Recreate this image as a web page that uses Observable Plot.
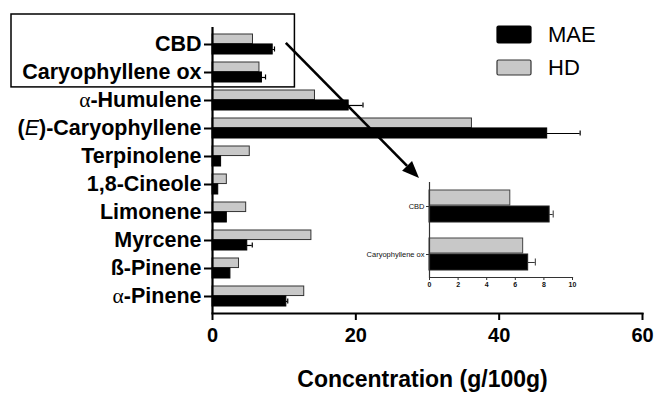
<!DOCTYPE html>
<html>
<head>
<meta charset="utf-8">
<script src="https://cdn.jsdelivr.net/npm/d3@7"></script>
<script src="https://cdn.jsdelivr.net/npm/@observablehq/plot@0.6"></script>
<style>
  html, body { margin: 0; padding: 0; background: #fff; }
  #chart { position: relative; width: 655px; height: 393px; overflow: hidden; }
  #chart > svg, #chart > figure { position: absolute; margin: 0; }
</style>
</head>
<body>
<div id="chart"></div>
<script>
// Essential-oil constituents, top to bottom
const compounds = ["CBD", "Caryophyllene ox", "α-Humulene", "(E)-Caryophyllene", "Terpinolene",
                   "1,8-Cineole", "Limonene", "Myrcene", "ß-Pinene", "α-Pinene"];
// Hydrodistillation (HD) yields, g/100g
const hdValues  = [5.65, 6.55, 14.3, 36.2, 5.2, 2.0, 4.7, 13.8, 3.7, 12.8];
// Microwave-assisted extraction (MAE) yields, g/100g, and their error bars
const maeValues = [8.4, 6.9, 19.0, 46.7, 1.2, 0.8, 2.0, 4.85, 2.5, 10.3];
const maeErrors = [0.25, 0.5, 2.0, 4.6, 0, 0, 0, 0.7, 0, 0.2];
const xTicks = [0, 20, 40, 60];
const insetTicks = [0, 2, 4, 6, 8, 10];
const insetCompounds = ["CBD", "Caryophyllene ox"];
const series = ["MAE", "HD"];
const axisTitle = "Concentration (g/100g)";

const rows = compounds.map((name, i) => ({name, hd: hdValues[i], mae: maeValues[i], err: maeErrors[i]}));
const errRows = rows.filter(d => d.err > 0);
const insetRows = rows.filter(d => insetCompounds.includes(d.name));

const FONT = "'Liberation Sans', Arial, Helvetica, sans-serif";
const GRAY = "#c8c8c8";
const container = document.getElementById("chart");

// ---- main chart ----
const M = {left: 212, right: 13, top: 27, bottom: 80};
const W = 655, H = 393;
const padIn = 0.3, padOut = 0.18;
const step = (H - M.top - M.bottom) / (compounds.length - padIn + 2 * padOut);
const half = step * (1 - padIn) / 2;

const main = Plot.plot({
  width: W, height: H,
  marginLeft: M.left, marginRight: M.right, marginTop: M.top, marginBottom: M.bottom,
  style: {fontFamily: FONT, fontWeight: "bold", color: "#000", background: "transparent", overflow: "visible"},
  x: {domain: [0, 60]},
  y: {domain: compounds, paddingInner: padIn, paddingOuter: padOut},
  marks: [
    Plot.barX(rows, {x: "hd", y: "name", fill: GRAY, stroke: "#333", strokeWidth: 1, insetBottom: half + 0.5}),
    Plot.barX(rows, {x: "mae", y: "name", fill: "#000", stroke: "#000", strokeWidth: 1, insetTop: half}),
    Plot.ruleY(errRows, {x1: "mae", x2: d => d.mae + d.err, y: "name", dy: half / 2, strokeWidth: 1.2}),
    Plot.tickX(errRows, {x: d => d.mae + d.err, y: "name", insetTop: half + 2.5, insetBottom: 2.5, strokeWidth: 1.2}),
    Plot.ruleX([0], {strokeWidth: 2.2}),
    Plot.frame({anchor: "bottom", strokeWidth: 2.2}),
    Plot.axisY({tickSize: 8, tickPadding: 3, fontSize: 21.5, label: null, strokeWidth: 2}),
    Plot.axisX({ticks: xTicks, tickSize: 7, tickPadding: 7, fontSize: 20, label: null, strokeWidth: 2}),
    Plot.text([axisTitle], {frameAnchor: "bottom", dx: -5, dy: 73, fontSize: 23, fontWeight: "bold"})
  ]
});
container.appendChild(main);

// Greek alpha in regular weight, stereo descriptor in italics
d3.select(main).selectAll('g[aria-label="y-axis tick label"] text').each(function () {
  const t = d3.select(this);
  const s = t.text();
  if (s.startsWith("α")) {
    t.text(null);
    t.append("tspan").attr("font-weight", "normal").attr("font-family", "'Liberation Serif', serif").text("α");
    t.append("tspan").text(s.slice(1));
  } else if (s.startsWith("(E)")) {
    t.text(null);
    t.append("tspan").text("(");
    t.append("tspan").attr("font-style", "italic").attr("font-weight", "normal").text("E");
    t.append("tspan").text(")" + s.slice(3));
  }
});

// ---- inset: the two minor constituents on a 0–10 scale ----
const IM = {left: 64, right: 8, top: 6, bottom: 20};
const insetW = 215, insetH = 121;
const insetLeft = 365, insetTop = 176;
const iPadIn = 0.34, iPadOut = 0.15;
const iStep = (insetH - IM.top - IM.bottom) / (insetCompounds.length - iPadIn + 2 * iPadOut);
const iHalf = iStep * (1 - iPadIn) / 2;

const inset = Plot.plot({
  width: insetW, height: insetH,
  marginLeft: IM.left, marginRight: IM.right, marginTop: IM.top, marginBottom: IM.bottom,
  style: {fontFamily: FONT, color: "#111", background: "transparent", overflow: "visible"},
  x: {domain: [0, 10]},
  y: {domain: insetCompounds, paddingInner: iPadIn, paddingOuter: iPadOut},
  marks: [
    Plot.barX(insetRows, {x: "hd", y: "name", fill: GRAY, stroke: "#444", strokeWidth: 1, insetBottom: iHalf + 1}),
    Plot.barX(insetRows, {x: "mae", y: "name", fill: "#000", stroke: "#222", strokeWidth: 1, insetTop: iHalf}),
    Plot.ruleY(insetRows, {x1: "mae", x2: d => d.mae + d.err, y: "name", dy: iHalf / 2, stroke: "#333", strokeWidth: 1}),
    Plot.tickX(insetRows, {x: d => d.mae + d.err, y: "name", insetTop: iHalf + 4.5, insetBottom: 4.5, stroke: "#333", strokeWidth: 1}),
    Plot.ruleX([0], {stroke: "#333", strokeWidth: 1.2}),
    Plot.frame({anchor: "bottom", stroke: "#333", strokeWidth: 1.2}),
    Plot.axisY({tickSize: 3, tickPadding: 2, fontSize: 7.5, label: null, stroke: "#333", fill: "#111"}),
    Plot.axisX({ticks: insetTicks, tickSize: 3, tickPadding: 2, fontSize: 7, fontWeight: "bold", label: null, stroke: "#333", fill: "#111"})
  ]
});
inset.style.left = insetLeft + "px";
inset.style.top = insetTop + "px";
container.appendChild(inset);

// ---- annotations: highlight box, arrow to inset, legend ----
const xs = main.scale("x"), ys = main.scale("y");
const overlay = d3.select(container).append("svg")
  .attr("width", W).attr("height", H)
  .style("left", 0).style("top", 0)
  .style("font-family", FONT);

const boxTop = ys.apply("CBD") - 20;
const boxBottom = ys.apply("Caryophyllene ox") + 2 * half + 5;
overlay.append("rect")
  .attr("x", 11).attr("y", boxTop)
  .attr("width", xs.apply(11.5) - 11).attr("height", boxBottom - boxTop)
  .attr("fill", "none").attr("stroke", "#000").attr("stroke-width", 1.5);

const ax0 = xs.apply(10.3), ay0 = ys.apply("CBD") + half - 1;
const ax1 = insetLeft + IM.left - 10, ay1 = insetTop + 2;
const ang = Math.atan2(ay1 - ay0, ax1 - ax0);
const headLen = 17, headW = 7;
const bx = ax1 - headLen * Math.cos(ang), by = ay1 - headLen * Math.sin(ang);
overlay.append("line")
  .attr("x1", ax0).attr("y1", ay0).attr("x2", bx).attr("y2", by)
  .attr("stroke", "#000").attr("stroke-width", 2.6);
overlay.append("path")
  .attr("d", `M${ax1},${ay1}L${bx - headW * Math.sin(ang)},${by + headW * Math.cos(ang)}L${bx + headW * Math.sin(ang)},${by - headW * Math.cos(ang)}Z`)
  .attr("fill", "#000");

const legend = overlay.append("g");
const legendRows = [
  {label: series[0], y: 26, h: 17, fill: "#000", stroke: "#000"},
  {label: series[1], y: 60, h: 15, fill: GRAY, stroke: "#333"}
];
legendRows.forEach(r => {
  legend.append("rect").attr("x", 497).attr("y", r.y).attr("width", 34).attr("height", r.h)
    .attr("rx", 1.5).attr("fill", r.fill).attr("stroke", r.stroke).attr("stroke-width", 1.2);
  legend.append("text").attr("x", 548).attr("y", r.y + r.h / 2).attr("dy", "0.36em")
    .attr("font-size", 22).attr("fill", "#000").text(r.label);
});
</script>
</body>
</html>
